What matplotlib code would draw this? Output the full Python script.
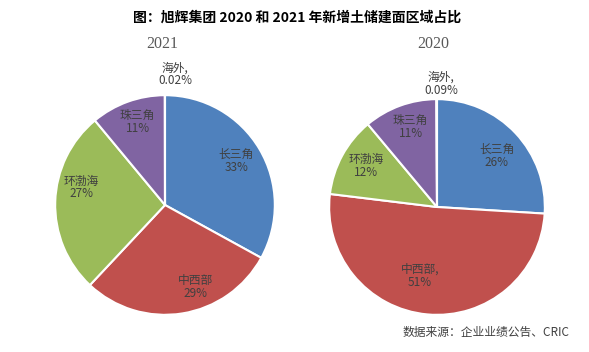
import matplotlib
matplotlib.use("Agg")
import matplotlib.pyplot as plt

plt.rcParams["font.family"] = ["Noto Sans CJK SC", "DejaVu Sans"]

regions = ["长三角", "中西部", "环渤海", "珠三角", "海外"]
share_2021 = [33, 29, 27, 11, 0.02]
share_2020 = [26, 51, 12, 11, 0.09]
text_2021 = ["长三角\n33%", "中西部\n29%", "环渤海\n27%", "珠三角\n11%", "海外,\n0.02%"]
text_2020 = ["长三角\n26%", "中西部,\n51%", "环渤海\n12%", "珠三角\n11%", "海外,\n0.09%"]
colors = ["#4F81BD", "#C0504D", "#9BBB59", "#8064A2", "#4BACC6"]

# label placement (units of pie radius, centre at 0,0)
pos_2021 = [(0.65, 0.40), (0.28, -0.75), (-0.76, 0.16), (-0.25, 0.76), (0.09, 1.19)]
pos_2020 = [(0.555, 0.47), (-0.16, -0.64), (-0.655, 0.38), (-0.245, 0.74), (0.04, 1.14)]

W, H = 589, 352
fig = plt.figure(figsize=(W / 100, H / 100), dpi=100)


def pie_axes(cx, cy, r):
    return fig.add_axes([(cx - r) / W, (H - cy - r) / H, 2 * r / W, 2 * r / H])


def draw(ax, vals, texts, pos):
    ax.pie(vals, colors=colors, startangle=90, counterclock=False, radius=1,
           wedgeprops=dict(edgecolor="white", linewidth=1.5))
    ax.set_xlim(-1.02, 1.02); ax.set_ylim(-1.02, 1.02)
    ax.set_aspect("equal", adjustable="box")
    ax.axis("off")
    for t, (x, y) in zip(texts, pos):
        ax.text(x, y, t, ha="center", va="center", fontsize=8.5, color="#404040",
                linespacing=1.0, clip_on=False)


ax1 = pie_axes(165, 205, 112)
draw(ax1, share_2021, text_2021, pos_2021)
ax2 = pie_axes(437, 207, 110)
draw(ax2, share_2020, text_2020, pos_2020)

fig.text(162 / W, 1 - 44 / H, "2021", ha="center", va="center", fontsize=11.5,
         family="Liberation Serif", color="#595959")
fig.text(433 / W, 1 - 44 / H, "2020", ha="center", va="center", fontsize=11.5,
         family="Liberation Serif", color="#595959")
fig.text(297 / W, 1 - 18 / H, "图：旭辉集团 2020 和 2021 年新增土储建面区域占比",
         ha="center", va="center", fontsize=10, fontweight="bold", color="black")
fig.text(486 / W, 1 - 332 / H, "数据来源：企业业绩公告、CRIC", ha="center", va="center",
         fontsize=8.5, color="#404040")

fig.savefig("out.png", dpi=100)
